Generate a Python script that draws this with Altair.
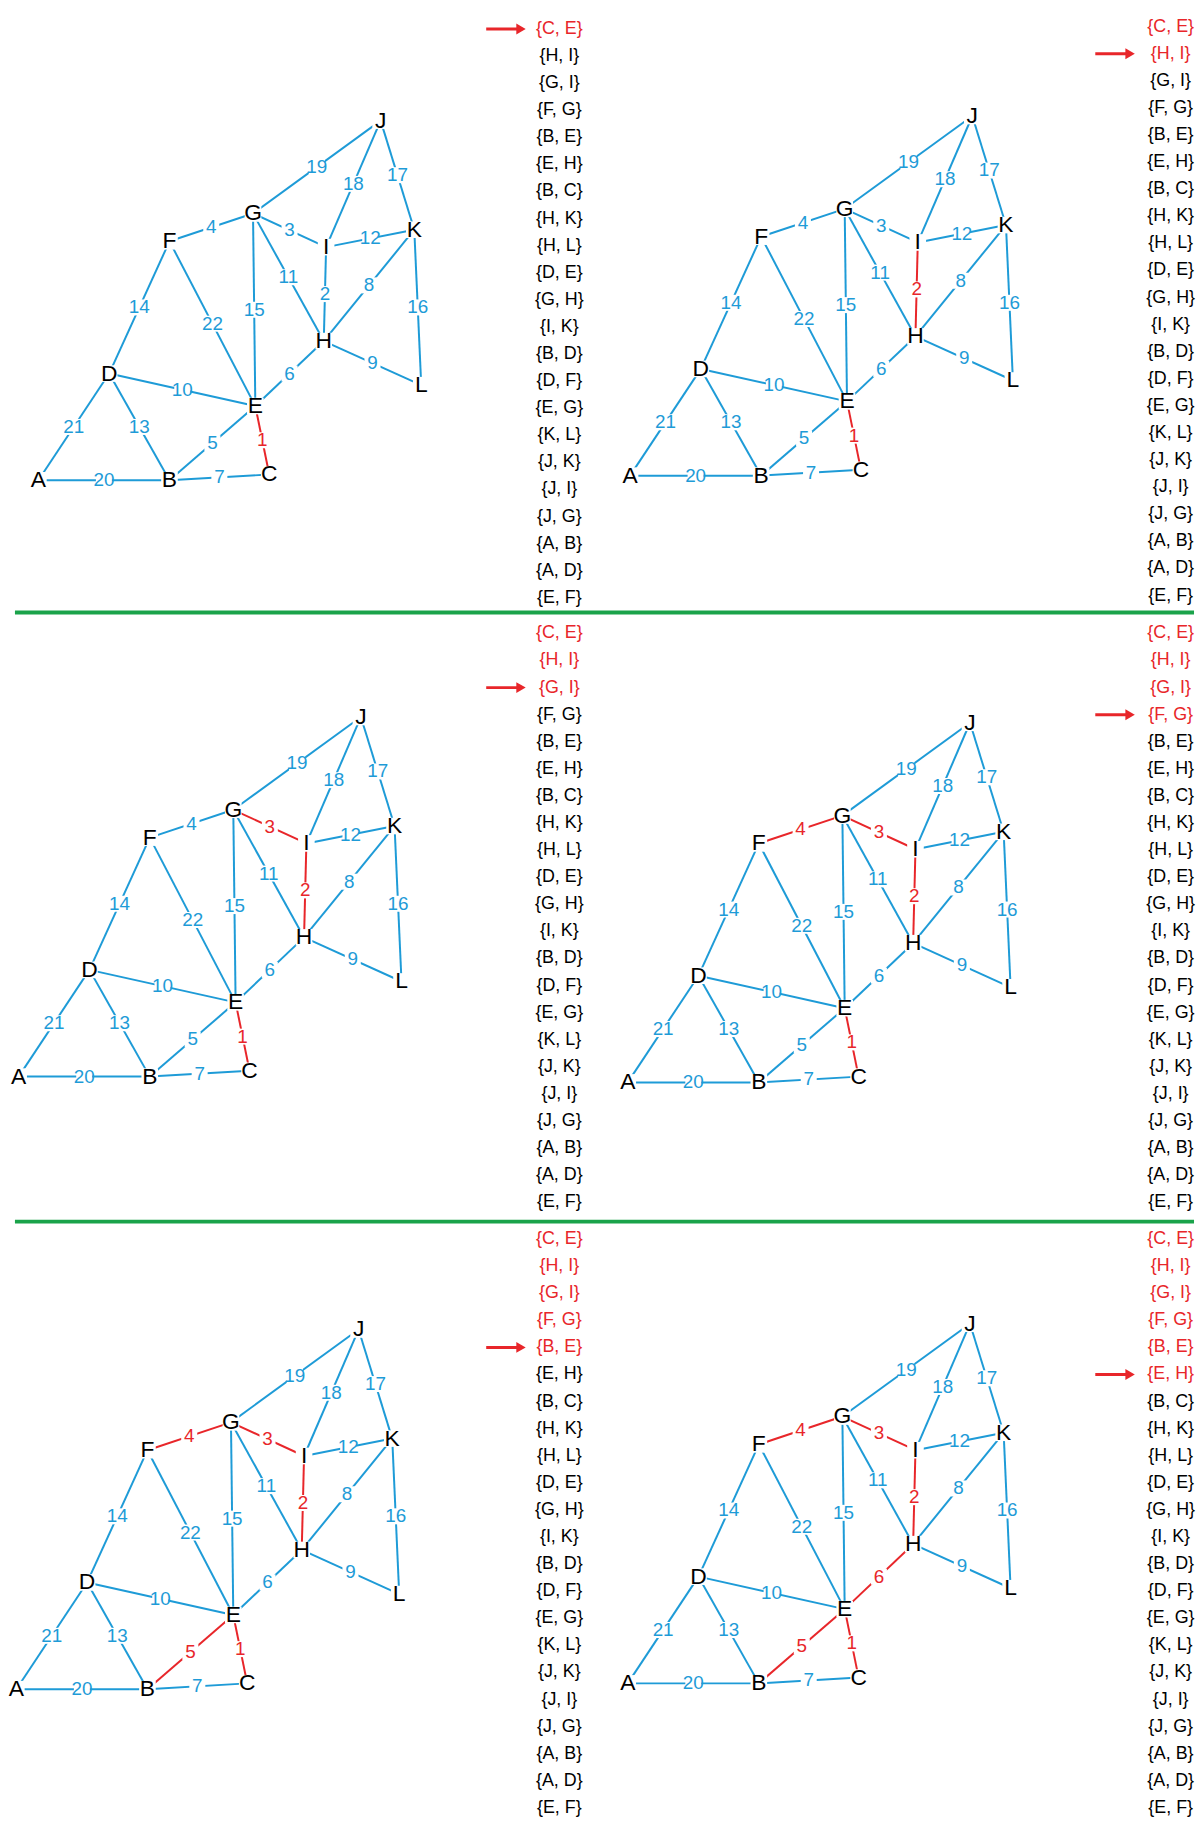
import altair as alt
import pandas as pd

# base layout of the graph (coordinates in reference-picture units)
node_names = ["A", "B", "C", "D", "E", "F", "G", "H", "I", "J", "K", "L"]
node_x = [27, 140, 226, 88, 214, 140, 212, 273, 275, 322, 351, 357]
node_y = [408, 408, 403, 316, 344, 202, 178, 288, 207, 98, 192, 326]

edge_from = ["C", "H", "G", "F", "B", "E", "B", "H", "H", "D", "G", "I", "B", "D", "E", "K", "J", "J", "J", "A", "A", "E"]
edge_to = ["E", "I", "I", "G", "E", "H", "C", "K", "L", "E", "H", "K", "D", "F", "G", "L", "K", "I", "G", "B", "D", "F"]
edge_w = [1, 2, 3, 4, 5, 6, 7, 8, 9, 10, 11, 12, 13, 14, 15, 16, 17, 18, 19, 20, 21, 22]

# sorted edge list shown next to each panel
edge_list = ["{C, E}", "{H, I}", "{G, I}", "{F, G}", "{B, E}", "{E, H}", "{B, C}", "{H, K}",
             "{H, L}", "{D, E}", "{G, H}", "{I, K}", "{B, D}", "{D, F}", "{E, G}", "{K, L}",
             "{J, K}", "{J, I}", "{J, G}", "{A, B}", "{A, D}", "{E, F}"]

# panels: graph offset, list column x, list top y, arrow x
panel_dx = [0, 510, -17, 508, -19, 508]
panel_dy = [0, -4, 514, 519, 1042, 1037]
list_x = [476, 1003, 476, 1003, 476, 1003]
list_top = [19, 17, 540, 540, 1062, 1062]
arrow_x = [413, 938, 413, 938, 413, 938]
row_step = 23.35

BLUE = "#1e9bd7"
RED = "#e8262a"
pos = dict(zip(node_names, zip(node_x, node_y)))

edges, elabels, nodes, listrows, arrows = [], [], [], [], []
for p in range(6):
    dx, dy = panel_dx[p], panel_dy[p]
    for i, (a, b, w) in enumerate(zip(edge_from, edge_to, edge_w)):
        col = "red" if i <= p else "blue"
        x1, y1 = pos[a][0] + dx, pos[a][1] + dy
        x2, y2 = pos[b][0] + dx, pos[b][1] + dy
        edges.append(dict(x=x1, y=y1, x2=x2, y2=y2, c=col))
        elabels.append(dict(x=(x1 + x2) / 2, y=(y1 + y2) / 2, t=str(w), c=col))
    for n in node_names:
        nodes.append(dict(x=pos[n][0] + dx, y=pos[n][1] + dy, t=n))
    for r, s in enumerate(edge_list):
        listrows.append(dict(x=list_x[p], y=list_top[p] + r * row_step, t=s,
                             c="red" if r <= p else "black"))
    arrows.append(dict(x=arrow_x[p], x2=arrow_x[p] + 30, y=list_top[p] + p * row_step))

seps = pd.DataFrame(dict(y=[522, 1047]))

xs = alt.Scale(domain=[6.8, 1023.1], nice=False, zero=False)
ys = alt.Scale(domain=[6.8, 1562.9], nice=False, zero=False, reverse=True)
X = lambda f="x": alt.X(f, type="quantitative", scale=xs, axis=None)
Y = lambda f="y": alt.Y(f, type="quantitative", scale=ys, axis=None)
colr = alt.Color("c:N", scale=alt.Scale(domain=["blue", "red", "black"], range=[BLUE, RED, "black"]), legend=None)

e_df = pd.DataFrame(edges)
el_df = pd.DataFrame(elabels)
n_df = pd.DataFrame(nodes)
l_df = pd.DataFrame(listrows)
a_df = pd.DataFrame(arrows)

edge_layer = alt.Chart(e_df).mark_rule(strokeWidth=2).encode(X(), Y(), x2="x2", y2="y2", color=colr)
lab_bg = alt.Chart(el_df).mark_square(color="white", opacity=1, size=260).encode(X(), Y())
lab = alt.Chart(el_df).mark_text(font="Liberation Sans", fontSize=19).encode(X(), Y(), text="t", color=colr)
node_bg = alt.Chart(n_df).mark_square(color="white", opacity=1, size=280).encode(X(), Y())
node_t = alt.Chart(n_df).mark_text(font="Liberation Sans", fontSize=23, color="black").encode(X(), Y(), text="t")
lst = alt.Chart(l_df).mark_text(font="Liberation Sans", fontSize=18).encode(X(), Y(), text="t", color=colr)
arr_line = alt.Chart(a_df).mark_rule(color=RED, strokeWidth=3).encode(X(), Y(), x2="x2")
arr_head = alt.Chart(a_df).mark_point(shape="triangle-right", filled=True, color=RED, opacity=1, size=120).encode(X("x2"), Y())
sep = alt.Chart(seps).mark_rule(color="#1aa34a", strokeWidth=4).encode(
    x=alt.value(0), x2=alt.value(1188), y=Y())

chart = alt.layer(edge_layer, lab_bg, lab, node_bg, node_t, lst, arr_line, arr_head, sep).properties(
    width=1188, height=1819, padding=0
).configure_view(stroke=None)

chart.save("out.html", embed_options={"renderer": "svg", "actions": False})
